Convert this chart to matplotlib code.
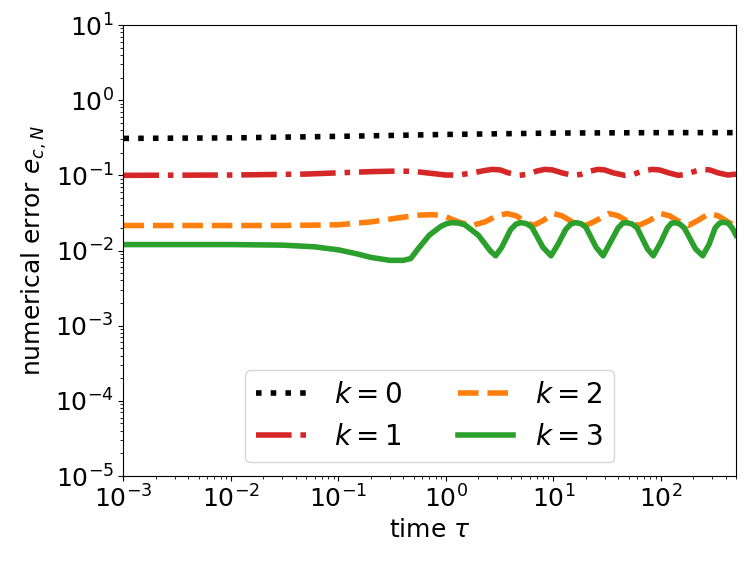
import matplotlib
matplotlib.use("Agg")
import matplotlib.pyplot as plt

tau_k0 = [1e-3, 1e-2, 1e-1, 1.0, 10.0, 100.0, 500.0]
err_k0 = [0.31, 0.315, 0.33, 0.35, 0.365, 0.37, 0.37]

tau_k1 = [1e-3, 0.01, 0.05, 0.1, 0.2, 0.35, 0.5, 0.7, 1.0, 1.3, 1.8, 2.3, 2.7, 3.2,
          3.8, 4.8, 5.7, 7.0, 8.3, 9.8, 12, 15, 18, 22, 26, 30, 36, 46, 55, 68, 83, 97,
          118, 145, 170, 210, 245, 285, 340, 420, 500]
err_k1 = [0.100, 0.101, 0.104, 0.108, 0.112, 0.114, 0.113, 0.107, 0.101, 0.101, 0.108,
          0.116, 0.120, 0.118, 0.108, 0.100, 0.103, 0.114, 0.120, 0.118, 0.108, 0.100,
          0.103, 0.114, 0.120, 0.118, 0.108, 0.100, 0.103, 0.114, 0.120, 0.118, 0.108,
          0.100, 0.103, 0.114, 0.120, 0.118, 0.108, 0.101, 0.104]

tau_k2 = [1e-3, 0.03, 0.1, 0.2, 0.35, 0.55, 0.75, 0.95, 1.3, 1.75, 2.3, 3.0, 3.7, 4.5,
          5.5, 6.5, 8, 10, 12, 15, 20, 25, 33, 40, 50, 62, 78, 100, 120, 150, 180, 220,
          280, 340, 420, 500]
err_k2 = [0.0215, 0.0215, 0.022, 0.024, 0.027, 0.0295, 0.030, 0.029, 0.024, 0.0215,
          0.024, 0.029, 0.031, 0.029, 0.024, 0.0215, 0.025, 0.031, 0.029, 0.024, 0.0215,
          0.025, 0.031, 0.029, 0.024, 0.0215, 0.025, 0.031, 0.029, 0.024, 0.0215, 0.025,
          0.031, 0.029, 0.024, 0.021]

tau_k3 = [1e-3, 1e-2, 0.03, 0.06, 0.1, 0.15, 0.2, 0.3, 0.4, 0.47, 0.55, 0.7, 0.9, 1.02,
          1.15, 1.3, 1.5, 2.0, 2.6, 2.9, 3.3, 4.0, 4.5, 5.0, 5.6, 6.3, 8.0, 9.5, 11, 13,
          14.5, 16, 18, 20, 25, 29, 33, 40, 44, 48, 54, 60, 75, 85, 100, 115, 125, 135,
          150, 165, 210, 245, 280, 320, 350, 380, 420, 460, 500]
err_k3 = [0.0120, 0.0120, 0.0118, 0.0112, 0.0102, 0.0090, 0.0081, 0.0074, 0.0074,
          0.0078, 0.0105, 0.016, 0.021, 0.0228, 0.0235, 0.0232, 0.022, 0.016, 0.0098,
          0.0085, 0.011, 0.019, 0.0225, 0.0235, 0.0228, 0.0205, 0.011, 0.0085, 0.012,
          0.019, 0.0225, 0.0235, 0.0228, 0.0205, 0.011, 0.0085, 0.012, 0.020, 0.023,
          0.0235, 0.0225, 0.0200, 0.0105, 0.0085, 0.013, 0.020, 0.023, 0.0235, 0.0225,
          0.0200, 0.0105, 0.0085, 0.012, 0.020, 0.023, 0.0238, 0.0232, 0.020, 0.016]

labels = [r"$k=0$", r"$k=1$", r"$k=2$", r"$k=3$"]

plt.rcParams['font.size'] = 18
fig = plt.figure(figsize=(7.47, 5.62), dpi=100)
ax = fig.add_axes([0.1653, 0.1530, 0.8200, 0.8025])

lw = 4
ax.plot(tau_k0, err_k0, color='black', ls=':', lw=lw, label=labels[0])
ax.plot(tau_k1, err_k1, color='#d62728', ls='-.', lw=lw, label=labels[1])
ax.plot(tau_k2, err_k2, color='#ff7f0e', ls='--', lw=lw, label=labels[2])
ax.plot(tau_k3, err_k3, color='#2ca02c', ls='-', lw=lw, label=labels[3])

ax.set_xscale('log')
ax.set_yscale('log')
ax.set_xlim(1e-3, 500)
ax.set_ylim(1e-5, 1e1)
ax.set_xlabel(r"time $\tau$")
ax.set_ylabel(r"numerical error $e_{c,N}$")
ax.legend(loc='lower center', ncol=2, fontsize=20)

fig.savefig("out.png", dpi=100)
